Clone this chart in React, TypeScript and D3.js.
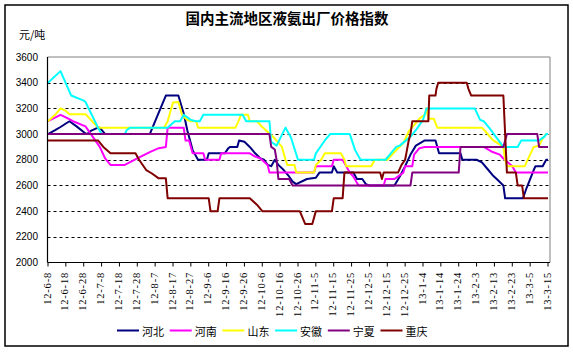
import * as d3 from "d3"

const tickLabels = [
  "12-6-8", "12-6-18", "12-6-28", "12-7-8", "12-7-18", "12-7-28", "12-8-7", "12-8-17",
  "12-8-27", "12-9-6", "12-9-16", "12-9-26", "12-10-6", "12-10-16", "12-10-26", "12-11-5",
  "12-11-15", "12-11-25", "12-12-5", "12-12-15", "12-12-25", "13-1-4", "13-1-14", "13-1-24",
  "13-2-3", "13-2-13", "13-2-23", "13-3-5", "13-3-15",
]
const yTicks = [2000, 2200, 2400, 2600, 2800, 3000, 3200, 3400, 3600]

const seriesNames = ["河北", "河南", "山东", "安徽", "宁夏", "重庆"]
const seriesColors = ["#000080", "#ff00ff", "#ffff00", "#00ffff", "#800080", "#800000"]

// [days since 2012-06-08, price]
const hebei: [number, number][] = [
  [0, 3000], [4, 3030], [7, 3055], [12, 3100], [16, 3060], [21, 3005], [22, 3000], [24, 3025],
  [27, 3045], [29, 3050], [32, 3000], [57, 3000], [63, 3200], [66, 3300], [73, 3300], [76, 3160],
  [78, 3030], [81, 2875], [84, 2800], [89, 2800], [90, 2850], [99, 2850], [101, 2890], [102, 2900],
  [106, 2900], [107, 2950], [110, 2940], [113, 2900], [116, 2850], [119, 2810], [121, 2800],
  [123, 2760], [125, 2750], [127, 2800], [129, 2760], [132, 2720], [135, 2670], [137, 2630],
  [139, 2610], [145, 2650], [150, 2660], [152, 2700], [159, 2700], [160, 2750], [162, 2700],
  [171, 2700], [173, 2650], [176, 2650], [178, 2610], [180, 2600], [194, 2600], [197, 2670],
  [200, 2750], [203, 2840], [206, 2910], [211, 2950], [217, 2950], [219, 2850], [231, 2850],
  [232, 2800], [240, 2800], [243, 2780], [246, 2730], [249, 2680], [252, 2640], [255, 2600],
  [256, 2500], [266, 2500], [268, 2580], [270, 2650], [272, 2720], [273, 2750], [277, 2750],
  [279, 2800], [280, 2800],
]
const henan: [number, number][] = [
  [0, 3100], [7, 3150], [10, 3130], [14, 3100], [21, 3060], [25, 2980], [29, 2900], [32, 2810],
  [35, 2760], [43, 2760], [50, 2810], [57, 2860], [62, 2890], [66, 2900], [67, 3050], [76, 3050],
  [77, 2950], [79, 2950], [81, 2850], [87, 2850], [88, 2800], [96, 2800], [97, 2850], [113, 2850],
  [116, 2825], [119, 2810], [121, 2785], [123, 2760], [124, 2700], [149, 2700], [150, 2750],
  [159, 2750], [160, 2800], [165, 2800], [167, 2750], [169, 2700], [171, 2670], [173, 2620],
  [174, 2600], [188, 2600], [189, 2650], [194, 2650], [199, 2700], [200, 2750], [204, 2750],
  [205, 2840], [208, 2890], [211, 2900], [244, 2900], [249, 2860], [253, 2840], [255, 2810],
  [260, 2750], [262, 2700], [280, 2700],
]
const shandong: [number, number][] = [
  [0, 3100], [4, 3150], [7, 3200], [10, 3180], [12, 3155], [21, 3155], [28, 3050], [65, 3050],
  [67, 3100], [70, 3245], [73, 3250], [75, 3150], [78, 3110], [80, 3100], [83, 3100], [84, 3050],
  [105, 3050], [107, 3110], [108, 3150], [112, 3150], [113, 3100], [117, 3100], [120, 3055],
  [124, 3005], [127, 2965], [131, 2900], [133, 2800], [134, 2760], [138, 2760], [139, 2700],
  [149, 2700], [150, 2760], [153, 2800], [155, 2850], [164, 2850], [166, 2800], [167, 2750],
  [181, 2750], [183, 2800], [190, 2800], [192, 2830], [194, 2860], [199, 2930], [202, 3020],
  [205, 3070], [208, 3120], [211, 3150], [212, 3200], [213, 3120], [216, 3120], [218, 3050],
  [243, 3050], [245, 3020], [249, 2955], [255, 2900], [256, 2800], [257, 2750], [267, 2750],
  [272, 2900], [275, 2910], [277, 2965], [279, 3000], [280, 3000],
]
const anhui: [number, number][] = [
  [0, 3400], [7, 3490], [13, 3300], [20, 3260], [21, 3250], [28, 3050], [30, 3000], [43, 3000],
  [44, 3030], [46, 3050], [67, 3050], [71, 3100], [74, 3100], [76, 3150], [78, 3130], [80, 3110],
  [83, 3100], [85, 3100], [87, 3150], [109, 3150], [111, 3100], [124, 3100], [125, 2940],
  [128, 2910], [133, 3050], [136, 2975], [140, 2800], [149, 2800], [150, 2850], [155, 2950],
  [158, 3000], [169, 3000], [172, 2875], [175, 2800], [189, 2800], [192, 2850], [195, 2900],
  [197, 2910], [203, 2980], [206, 3030], [210, 3110], [212, 3200], [239, 3200], [242, 3110],
  [244, 3100], [247, 3050], [255, 2900], [263, 2900], [265, 2950], [275, 2950], [278, 2980],
  [279, 3000], [280, 3000],
]
const ningxia: [number, number][] = [
  [0, 3000], [124, 3000], [125, 2900], [127, 2880], [128, 2800], [129, 2650], [135, 2650],
  [137, 2600], [203, 2600], [204, 2700], [230, 2700], [231, 2900], [255, 2900], [257, 3000],
  [274, 3000], [275, 2900], [280, 2900],
]
const chongqing: [number, number][] = [
  [0, 2950], [28, 2950], [31, 2900], [35, 2850], [49, 2850], [51, 2800], [55, 2720], [58, 2695],
  [62, 2655], [66, 2655], [67, 2500], [90, 2500], [91, 2400], [95, 2400], [96, 2500], [113, 2500],
  [117, 2450], [120, 2400], [141, 2400], [144, 2300], [148, 2300], [150, 2400], [159, 2400],
  [160, 2500], [165, 2500], [166, 2700], [186, 2700], [187, 2650], [188, 2700], [196, 2700],
  [198, 2760], [200, 2800], [201, 2875], [202, 2950], [203, 3000], [204, 3100], [213, 3100],
  [213.5, 3300], [217, 3300], [217.5, 3350], [218.5, 3400], [234.5, 3400], [235.5, 3350],
  [237, 3300], [255, 3300], [257, 2700], [262, 2700], [263, 2600], [265.5, 2600], [266.5, 2500],
  [280, 2500],
]

const seriesData = [hebei, henan, shandong, anhui, ningxia, chongqing]

const W = 573
const H = 353
const plot = { left: 47.5, right: 550, top: 57, bottom: 262.5 }

export default function App() {
  const x = d3.scaleLinear().domain([0, 280]).range([48, 548])
  const y = d3.scaleLinear().domain([2000, 3600]).range([plot.bottom, plot.top])

  const line = d3
    .line<[number, number]>()
    .x(d => x(d[0]))
    .y(d => y(d[1]))

  const cjk = "'Noto Sans CJK SC', sans-serif"

  return (
    <svg
      width={W}
      height={H}
      style={{ position: "absolute", left: 0, top: 0, background: "#fff" }}
    >
      <rect x={5} y={5} width={563} height={341} fill="#fff" stroke="#000" strokeWidth={1.5} />

      <text x={287} y={24} textAnchor="middle" fontFamily={cjk} fontSize={14.5} fontWeight="bold" fill="#000">
        国内主流地区液氨出厂价格指数
      </text>
      <text x={19} y={39} fontFamily={cjk} fontSize={11} fill="#000">
        元/吨
      </text>

      {/* grid lines */}
      {yTicks.slice(1, -1).map(t => (
        <line
          key={t}
          x1={plot.left}
          x2={plot.right}
          y1={Math.round(y(t)) + 0.5}
          y2={Math.round(y(t)) + 0.5}
          stroke="#000"
          strokeWidth={1}
          strokeDasharray="3,3"
        />
      ))}

      {/* top / right border */}
      <polyline
        points={`${plot.left},${plot.top} ${plot.right},${plot.top} ${plot.right},${plot.bottom}`}
        fill="none"
        stroke="#808080"
        strokeWidth={1}
      />

      {/* y labels */}
      {yTicks.map(t => (
        <text
          key={t}
          x={38}
          y={y(t)}
          textAnchor="end"
          dominantBaseline="central"
          fontFamily="'Liberation Sans', Arial, sans-serif"
          fontSize={10}
          fill="#000"
        >
          {t}
        </text>
      ))}

      {/* series */}
      {seriesData.map((s, i) => (
        <path
          key={seriesNames[i]}
          d={line(s) || ""}
          fill="none"
          stroke={seriesColors[i]}
          strokeWidth={2}
          strokeLinejoin="round"
        />
      ))}

      {/* axes */}
      <line x1={plot.left} x2={plot.left} y1={plot.top} y2={plot.bottom} stroke="#000" strokeWidth={1.2} />
      <line x1={plot.left} x2={plot.right} y1={plot.bottom} y2={plot.bottom} stroke="#000" strokeWidth={1.2} />
      {tickLabels.map((lab, i) => (
        <g key={lab}>
          <line x1={x(i * 10)} x2={x(i * 10)} y1={plot.bottom} y2={plot.bottom + 4} stroke="#000" strokeWidth={1} />
          <text
            transform={`translate(${x(i * 10) - 1},272) rotate(-90)`}
            textAnchor="end"
            dominantBaseline="central"
            fontFamily="'Liberation Serif', serif"
            fontSize={10.5}
            letterSpacing={0.8}
            fill="#000"
          >
            {lab}
          </text>
        </g>
      ))}

      {/* legend */}
      {seriesNames.map((n, i) => {
        const lx = 117 + i * 52.7
        return (
          <g key={n}>
            <line x1={lx} x2={lx + 22} y1={330.5} y2={330.5} stroke={seriesColors[i]} strokeWidth={2} />
            <text x={lx + 25} y={331} dominantBaseline="central" fontFamily={cjk} fontSize={11} fill="#000">
              {n}
            </text>
          </g>
        )
      })}
    </svg>
  )
}
